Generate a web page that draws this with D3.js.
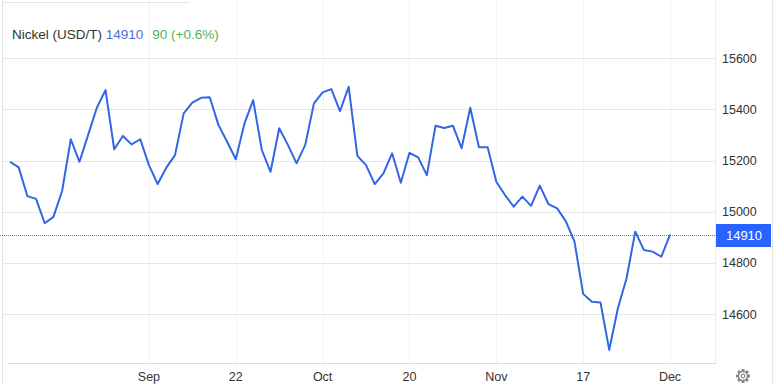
<!DOCTYPE html>
<html>
<head>
<meta charset="utf-8">
<script src="https://cdn.jsdelivr.net/npm/d3@7"></script>
<style>
  body { margin: 0; background: #fff; }
  svg { display: block; font-family: "Liberation Sans", Arial, sans-serif; }
</style>
</head>
<body>
<div id="chart"></div>
<script>
// nickel price, daily closes (USD/T)
var prices = [15195, 15173, 15061, 15050, 14955, 14980, 15081, 15283, 15195, 15300,
  15406, 15475, 15244, 15296, 15263, 15283, 15182, 15108, 15172, 15221,
  15384, 15426, 15445, 15447, 15339, 15273, 15205, 15345, 15436, 15241,
  15156, 15326, 15261, 15189, 15261, 15423, 15466, 15479, 15393, 15488,
  15218, 15182, 15108, 15150, 15228, 15113, 15230, 15212, 15143, 15336,
  15327, 15336, 15248, 15406, 15252, 15252, 15117, 15065, 15020, 15059,
  15023, 15102, 15030, 15013, 14963, 14883, 14679, 14648, 14645, 14460,
  14623, 14740, 14922, 14850, 14844, 14824, 14910];

var tickIndex = [16, 26, 36, 46, 56, 66, 76];
var tickLabels = ["Sep", "22", "Oct", "20", "Nov", "17", "Dec"];
var yTicks = [14600, 14800, 15000, 15200, 15400, 15600];

var lastValue = 14910, change = 90, changePct = "+0.6%";

var width = 776, height = 384;
var plotLeft = 3, plotRight = 715.5, plotBottom = 363.5;

var svg = d3.select("#chart").append("svg")
  .attr("width", width).attr("height", height);

var x = d3.scaleLinear().domain([0, prices.length - 1]).range([10, 670]);
var y = d3.scaleLinear().domain([14400, 15800]).range([365.3, 6.9]);

// vertical grid
svg.append("g").selectAll("line")
  .data(tickIndex).enter().append("line")
  .attr("x1", function(d) { return Math.round(x(d)) + 0.5; })
  .attr("x2", function(d) { return Math.round(x(d)) + 0.5; })
  .attr("y1", 0).attr("y2", plotBottom)
  .attr("stroke", "#f2f2f2");

// horizontal grid
svg.append("g").selectAll("line")
  .data(yTicks).enter().append("line")
  .attr("x1", plotLeft).attr("x2", plotRight)
  .attr("y1", function(d) { return Math.round(y(d)) + 0.5; })
  .attr("y2", function(d) { return Math.round(y(d)) + 0.5; })
  .attr("stroke", "#e6e6e6");

// borders
svg.append("line").attr("x1", 2.5).attr("x2", 2.5).attr("y1", 0).attr("y2", height)
  .attr("stroke", "#e3e3e3");
svg.append("line").attr("x1", plotRight).attr("x2", plotRight).attr("y1", 0).attr("y2", plotBottom)
  .attr("stroke", "#ececec");
svg.append("line").attr("x1", 772.5).attr("x2", 772.5).attr("y1", 0).attr("y2", height)
  .attr("stroke", "#e6e6e6");
svg.append("line").attr("x1", 8).attr("x2", plotRight).attr("y1", plotBottom).attr("y2", plotBottom)
  .attr("stroke", "#dedede");
svg.append("line").attr("x1", 3).attr("x2", 190).attr("y1", 2.5).attr("y2", 2.5)
  .attr("stroke", "#e6e6e6");

// x axis labels
svg.append("g").selectAll("text")
  .data(tickIndex).enter().append("text")
  .attr("x", function(d) { return x(d); })
  .attr("y", 381)
  .attr("text-anchor", "middle")
  .style("font-size", "12.5px")
  .style("fill", "#333")
  .text(function(d, i) { return tickLabels[i]; });

// y axis labels
svg.append("g").selectAll("text")
  .data(yTicks).enter().append("text")
  .attr("x", 722)
  .attr("y", function(d) { return y(d) + 4.5; })
  .style("font-size", "12.5px")
  .style("fill", "#333")
  .text(function(d) { return d; });

// last value dotted line
svg.append("line")
  .attr("x1", 0).attr("x2", plotRight)
  .attr("y1", Math.round(y(lastValue)) + 0.5).attr("y2", Math.round(y(lastValue)) + 0.5)
  .attr("stroke", "#4a6fd8")
  .attr("stroke-dasharray", "1,1");

// price line
var line = d3.line()
  .x(function(d, i) { return x(i); })
  .y(function(d) { return y(d); });

svg.append("path")
  .datum(prices)
  .attr("d", line)
  .attr("fill", "none")
  .attr("stroke", "#3266e3")
  .attr("stroke-width", 2)
  .attr("stroke-linejoin", "round");

// last value label
svg.append("rect")
  .attr("x", 716).attr("y", Math.round(y(lastValue)) - 11)
  .attr("width", 55).attr("height", 23)
  .attr("fill", "#2962ff");
svg.append("text")
  .attr("x", 744).attr("y", y(lastValue) + 5)
  .attr("text-anchor", "middle")
  .style("font-size", "13px")
  .style("fill", "#fff")
  .text(lastValue);

// legend
var legend = svg.append("text")
  .attr("x", 12).attr("y", 39)
  .style("font-size", "13.5px");
legend.append("tspan").style("fill", "#333").text("Nickel (USD/T) ");
legend.append("tspan").style("fill", "#4f6ed0").text(lastValue);
legend.append("tspan").attr("dx", 9).style("fill", "#52b352")
  .text(change + " (" + changePct + ")");

// settings gear
var gear = svg.append("g").attr("transform", "translate(743,376)");
for (var k = 0; k < 8; k++) {
  gear.append("rect")
    .attr("x", -1.5).attr("y", -7).attr("width", 3).attr("height", 3)
    .attr("fill", "#8a8a8a")
    .attr("transform", "rotate(" + (k * 45) + ")");
}
gear.append("circle").attr("r", 4.5).attr("fill", "#fff")
  .attr("stroke", "#8a8a8a").attr("stroke-width", 1.6);
gear.append("circle").attr("r", 1.8).attr("fill", "#fff")
  .attr("stroke", "#8a8a8a").attr("stroke-width", 1.2);
</script>
</body>
</html>
